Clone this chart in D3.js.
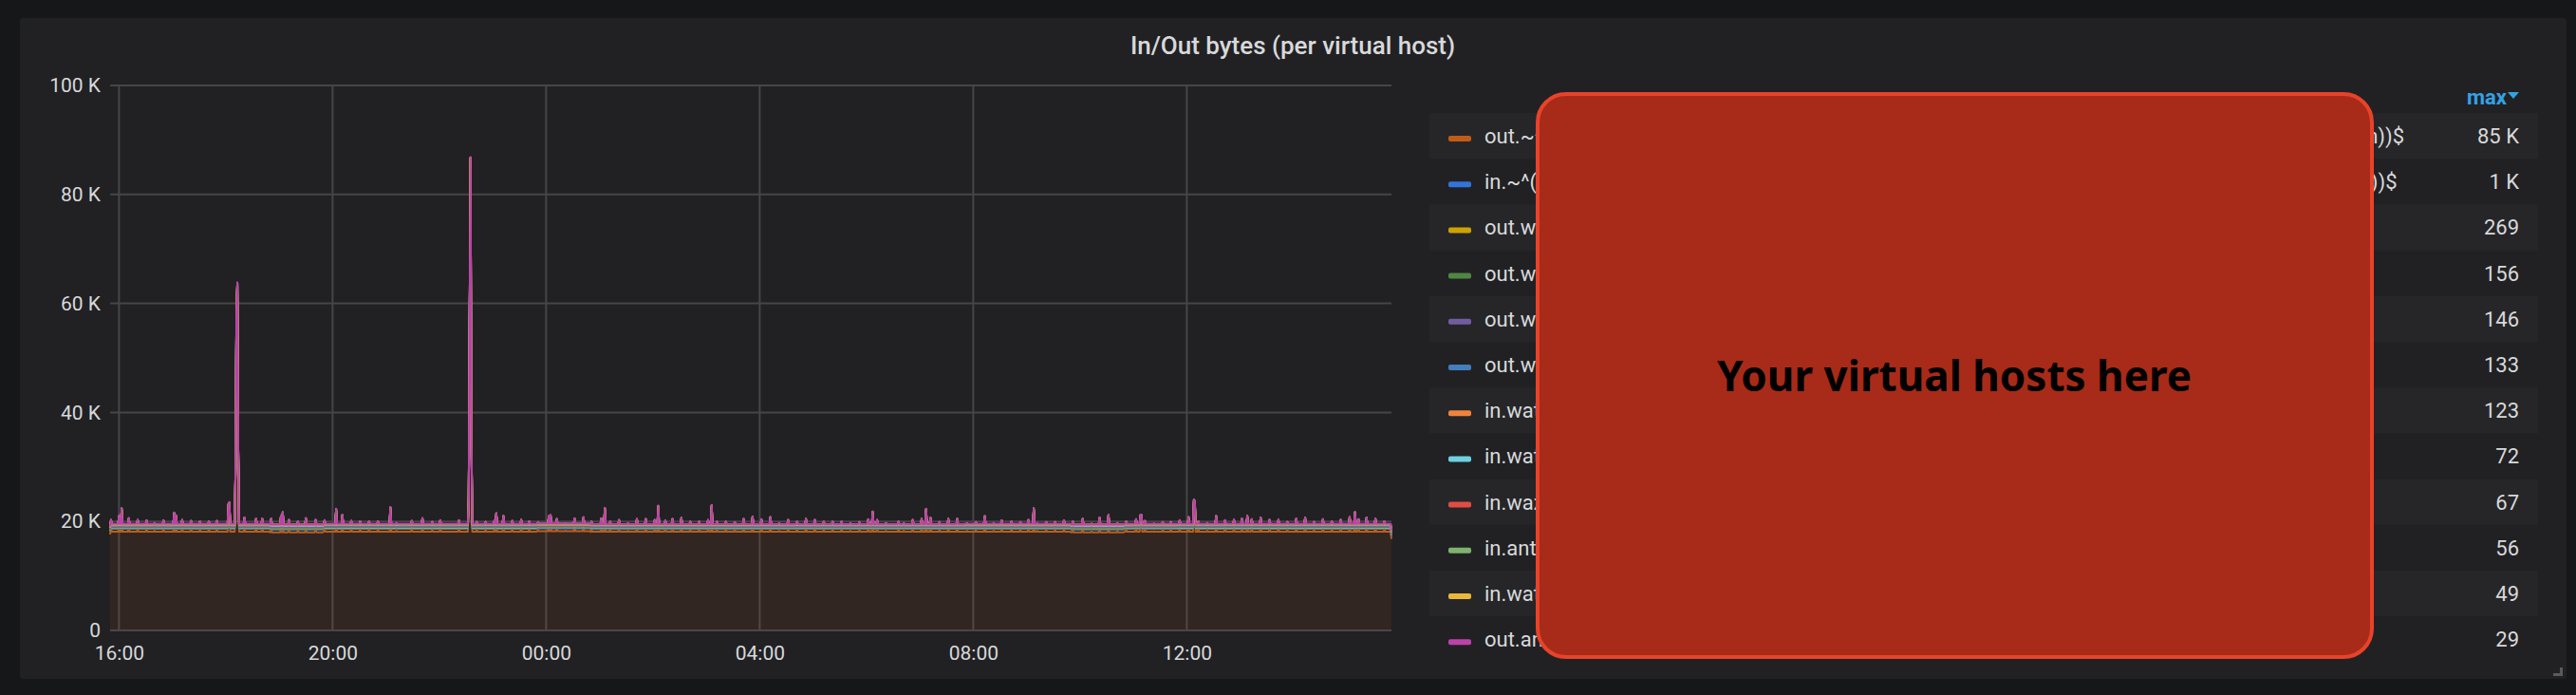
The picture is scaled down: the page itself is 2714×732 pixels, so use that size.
<!DOCTYPE html>
<html>
<head>
<meta charset="utf-8">
<script src="https://cdn.jsdelivr.net/npm/d3@7"></script>
<style>
  html, body { margin: 0; padding: 0; background: #161719; }
  svg { display: block; }
</style>
</head>
<body>
<svg id="chart" width="2714" height="732"></svg>
<script>
// ---- data (values in K bytes) ----
var seriesNames = [
  "out.~^((?!(watch|antenna)).*\\.(example|sample|company|business)\\.(com|net|org|fr|tech|domain))$",
  "in.~^((?!(watch|antenna)).*\\.(example|sample|company|business)\\.(com|net|org|ch|io|tech|main))$",
  "out.watch.example.com",
  "out.www.example.org",
  "out.webmail.example.net",
  "out.wiki.example.io",
  "in.watch.example.com",
  "in.watch.example.org",
  "in.wazuh.example.net",
  "in.antenna.example.com",
  "in.watch.example.net",
  "out.antenna.example.com"
];

var seriesColors = [
  "#C15C17", "#3274D9", "#CCA300", "#508642", "#705DA0", "#447EBC",
  "#EF843C", "#6ED0E0", "#E24D42", "#7EB26D", "#EAB839", "#BA43A9"
];

var legendMax = ["85 K", "1 K", "269", "156", "146", "133", "123", "72", "67", "56", "49", "29"];

var yTicks = [0, 20000, 40000, 60000, 80000, 100000];

// orange series: hourly baseline from 15:50, plus the single-minute readings (spikes)
var orangeBaseline = [
  18.1, 18.1, 18.1, 18.0, 18.1, 18.1, 18.1, 18.1, 18.2, 18.1, 18.1, 18.1, 18.1,
  18.1, 18.1, 18.1, 18.1, 18.1, 18.0, 18.1, 18.1, 18.1, 18.1, 18.1, 18.1
];

var orangeEvents = [
  [0, 17.6], [1, 18.9], [10, 19.6], [13, 21.0], [21, 19.2], [31, 18.9], [41, 18.8],
  [50, 18.3], [60, 18.8], [72, 20.2], [74, 19.7], [81, 18.9], [91, 18.7], [101, 18.6],
  [111, 18.6], [120, 18.7], [133, 21.8], [134, 22.1], [141, 28.6], [142, 57.0],
  [143, 62.4], [144, 32.0], [151, 19.3], [164, 19.1], [171, 19.1], [181, 19.1],
  [192, 19.6], [194, 20.3], [201, 18.9], [211, 18.6], [220, 19.2], [231, 18.9],
  [241, 18.8], [254, 20.9], [261, 19.8], [271, 18.7], [281, 18.6], [291, 18.6],
  [301, 18.6], [315, 21.2], [322, 18.3], [339, 18.7], [351, 19.2], [362, 18.5],
  [371, 18.8], [392, 18.8], [403, 22.8], [404, 54.2], [405, 85.4], [406, 34.6],
  [412, 18.5], [422, 18.5], [432, 18.8], [434, 20.1], [442, 19.6], [452, 18.7],
  [462, 18.9], [471, 18.6], [481, 18.5], [493, 19.6], [495, 19.8], [502, 19.1],
  [512, 18.3], [522, 19.2], [532, 19.4], [541, 18.6], [552, 19.2], [556, 21.1],
  [562, 18.6], [572, 18.9], [582, 18.3], [592, 19.1], [602, 19.1], [612, 18.9],
  [616, 21.5], [624, 18.8], [632, 19.1], [642, 19.3], [652, 18.6], [662, 18.6],
  [672, 18.9], [676, 21.6], [682, 18.6], [692, 18.6], [702, 18.5], [712, 19.1],
  [722, 19.5], [732, 19.0], [742, 19.4], [752, 18.3], [762, 18.9], [772, 18.6],
  [782, 19.1], [792, 18.9], [802, 18.6], [812, 18.6], [822, 18.6], [832, 18.3],
  [842, 18.5], [852, 19.0], [857, 20.4], [862, 18.9], [872, 18.3], [886, 18.6],
  [892, 18.3], [902, 18.9], [912, 19.1], [917, 20.9], [922, 19.3], [932, 18.5],
  [942, 19.1], [952, 19.1], [963, 18.3], [973, 18.5], [983, 19.6], [993, 18.3],
  [1002, 18.8], [1013, 18.6], [1023, 18.5], [1032, 18.9], [1038, 21.0], [1042, 18.3],
  [1052, 18.5], [1062, 18.5], [1072, 18.8], [1082, 18.6], [1093, 19.1], [1103, 18.2],
  [1112, 19.3], [1122, 19.8], [1132, 18.3], [1142, 18.6], [1153, 19.0], [1158, 19.8],
  [1159, 19.8], [1163, 18.7], [1173, 18.2], [1183, 18.5], [1192, 18.5], [1202, 18.8],
  [1212, 19.4], [1218, 22.6], [1219, 22.3], [1223, 18.6], [1233, 18.3], [1243, 19.6],
  [1253, 18.8], [1263, 18.9], [1272, 19.1], [1278, 19.6], [1283, 19.0], [1293, 19.3],
  [1303, 18.9], [1313, 18.9], [1323, 18.5], [1333, 19.1], [1343, 19.3], [1353, 18.5],
  [1363, 19.0], [1373, 18.6], [1383, 18.9], [1393, 19.4], [1399, 20.3], [1403, 19.0],
  [1412, 19.3], [1422, 19.1], [1432, 18.6], [1440, 16.8]
];

// the eleven small series, one level per 4 hour block from 15:50
var smallLevels = [
  [0.52, 0.53, 0.51, 0.52, 0.52, 0.53],
  [0.20, 0.20, 0.19, 0.20, 0.20, 0.20],
  [0.14, 0.14, 0.14, 0.13, 0.14, 0.14],
  [0.13, 0.13, 0.13, 0.13, 0.13, 0.13],
  [0.12, 0.12, 0.11, 0.12, 0.12, 0.12],
  [0.10, 0.10, 0.10, 0.10, 0.10, 0.10],
  [0.06, 0.06, 0.06, 0.06, 0.06, 0.06],
  [0.055, 0.055, 0.05, 0.055, 0.055, 0.055],
  [0.045, 0.045, 0.045, 0.045, 0.045, 0.045],
  [0.04, 0.04, 0.04, 0.04, 0.04, 0.04],
  [0.025, 0.025, 0.025, 0.025, 0.025, 0.025]
];

var startTime = new Date(2019, 5, 10, 15, 50);
var totalMinutes = 1440;

// ---- build the table the stack needs ----
var eventsByMinute = new Map(orangeEvents);
var keys = seriesNames.map(function(d, i) { return "s" + i; });

var table = d3.range(totalMinutes + 1).map(function(m) {
  var row = { time: d3.timeMinute.offset(startTime, m) };
  var base = orangeBaseline[Math.min(Math.floor(m / 60), orangeBaseline.length - 1)];
  row.s0 = (eventsByMinute.has(m) ? eventsByMinute.get(m) : base) * 1000;
  var block = Math.min(Math.floor(m / 240), 5);
  smallLevels.forEach(function(levels, i) {
    row["s" + (i + 1)] = levels[block] * 1000;
  });
  return row;
});

var layers = d3.stack().keys(keys)(table);

// ---- layout ----
var svg = d3.select("#chart");
var plot = { left: 116, right: 1466, top: 90, bottom: 664 };

svg.append("rect")
  .attr("x", 21).attr("y", 19)
  .attr("width", 2683).attr("height", 696)
  .attr("rx", 3)
  .attr("fill", "#212124");

svg.append("text")
  .attr("x", 1362).attr("y", 57)
  .attr("text-anchor", "middle")
  .attr("font-family", "Roboto")
  .attr("font-weight", 500)
  .attr("font-size", "26px")
  .attr("fill", "#d8d9da")
  .text("In/Out bytes (per virtual host)");

var x = d3.scaleTime()
  .domain([startTime, d3.timeMinute.offset(startTime, totalMinutes)])
  .range([plot.left, plot.right]);

var y = d3.scaleLinear()
  .domain([0, 100000])
  .range([plot.bottom, plot.top]);

var xTicks = x.ticks(d3.timeHour.every(4));

// grid
var grid = svg.append("g").attr("stroke", "#464649").attr("stroke-width", 2);

grid.selectAll("line.h")
  .data(yTicks)
  .enter().append("line")
  .attr("class", "h")
  .attr("x1", plot.left).attr("x2", plot.right)
  .attr("y1", function(d) { return y(d); })
  .attr("y2", function(d) { return y(d); });

grid.selectAll("line.v")
  .data(xTicks)
  .enter().append("line")
  .attr("class", "v")
  .attr("y1", plot.top).attr("y2", plot.bottom)
  .attr("x1", function(d) { return x(d); })
  .attr("x2", function(d) { return x(d); });

// axes labels
var yAxis = d3.axisLeft(y)
  .tickValues(yTicks)
  .tickSize(0)
  .tickPadding(10)
  .tickFormat(function(d) { return d === 0 ? "0" : (d / 1000) + " K"; });

var yG = svg.append("g")
  .attr("transform", "translate(" + plot.left + ",0)")
  .call(yAxis);

var xAxis = d3.axisBottom(x)
  .tickValues(xTicks)
  .tickSize(0)
  .tickPadding(16)
  .tickFormat(d3.timeFormat("%H:%M"));

var xG = svg.append("g")
  .attr("transform", "translate(0," + plot.bottom + ")")
  .call(xAxis);

[yG, xG].forEach(function(g) {
  g.select(".domain").remove();
  g.selectAll("text")
    .attr("font-family", "Roboto")
    .attr("font-size", "21px")
    .attr("fill", "#d8d9da");
});

// stacked series
var area = d3.area()
  .x(function(d) { return x(d.data.time); })
  .y0(function(d) { return y(d[0]); })
  .y1(function(d) { return y(d[1]); });

var line = d3.line()
  .x(function(d) { return x(d.data.time); })
  .y(function(d) { return y(d[1]); });

var series = svg.append("g");

series.selectAll("path.fill")
  .data(layers)
  .enter().append("path")
  .attr("class", "fill")
  .attr("d", area)
  .attr("fill", function(d, i) { return seriesColors[i]; })
  .attr("fill-opacity", 0.1);

series.selectAll("path.line")
  .data(layers)
  .enter().append("path")
  .attr("class", "line")
  .attr("d", line)
  .attr("fill", "none")
  .attr("stroke", function(d, i) { return seriesColors[i]; })
  .attr("stroke-width", 2)
  .attr("stroke-linejoin", "round");

// legend table
var legend = { left: 1506, right: 2674, top: 119, rowH: 48.2, valueX: 2654 };

var header = svg.append("g");
header.append("text")
  .attr("x", 2641).attr("y", 110)
  .attr("text-anchor", "end")
  .attr("font-family", "Roboto")
  .attr("font-weight", 700)
  .attr("font-size", "22px")
  .attr("fill", "#33a2e5")
  .text("max");
header.append("path")
  .attr("d", "M2642,97 L2654,97 L2648,104 Z")
  .attr("fill", "#33a2e5");

var rows = svg.append("g").selectAll("g")
  .data(seriesNames)
  .enter().append("g")
  .attr("transform", function(d, i) {
    return "translate(0," + (legend.top + i * legend.rowH) + ")";
  });

rows.filter(function(d, i) { return i % 2 === 0; })
  .append("rect")
  .attr("x", legend.left)
  .attr("width", legend.right - legend.left)
  .attr("height", legend.rowH)
  .attr("fill", "#262629");

rows.append("rect")
  .attr("x", 1526).attr("y", 24)
  .attr("width", 24).attr("height", 6)
  .attr("rx", 2)
  .attr("fill", function(d, i) { return seriesColors[i]; });

rows.append("text")
  .attr("x", 1564).attr("y", 32)
  .attr("font-family", "Roboto")
  .attr("font-size", "22px")
  .attr("fill", "#d8d9da")
  .text(function(d) { return d; });

rows.append("text")
  .attr("x", legend.valueX).attr("y", 32)
  .attr("text-anchor", "end")
  .attr("font-family", "Roboto")
  .attr("font-size", "22px")
  .attr("fill", "#d8d9da")
  .text(function(d, i) { return legendMax[i]; });

// the masking box over the host names
svg.append("rect")
  .attr("x", 1620).attr("y", 99)
  .attr("width", 879).attr("height", 593)
  .attr("rx", 30)
  .attr("fill", "#A72B18")
  .attr("stroke", "#E8432A")
  .attr("stroke-width", 4);

svg.append("text")
  .attr("x", 2059).attr("y", 412)
  .attr("text-anchor", "middle")
  .attr("font-family", "Noto Sans")
  .attr("font-weight", 700)
  .attr("font-size", "44px")
  .attr("textLength", 500)
  .attr("lengthAdjust", "spacingAndGlyphs")
  .attr("fill", "#000")
  .text("Your virtual hosts here");

// resize handle
svg.append("path")
  .attr("d", "M2700,703 L2700,712 L2690,712 L2690,709 L2697,709 L2697,703 Z")
  .attr("fill", "#5a5a5c");
</script>
</body>
</html>
